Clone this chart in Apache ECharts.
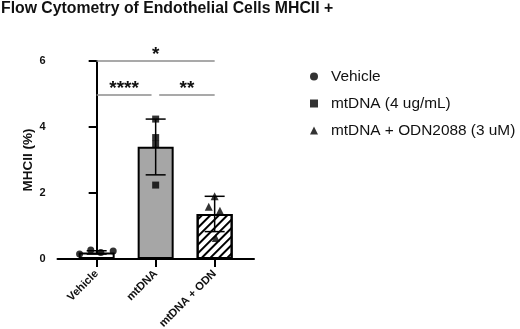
<!DOCTYPE html>
<html>
<head>
<meta charset="utf-8">
<script src="https://cdn.jsdelivr.net/npm/echarts@6/dist/echarts.min.js"></script>
<style>
  html, body { margin: 0; padding: 0; background: #fff; }
  #chart { width: 520px; height: 329px; }
</style>
</head>
<body>
<div id="chart"></div>
<script>
// groups
const categories = ['Vehicle', 'mtDNA', 'mtDNA + ODN'];
const seriesNames = ['Vehicle', 'mtDNA (4 ug/mL)', 'mtDNA + ODN2088 (3 uM)'];

// bar heights (mean) and error bar ends
const means = [0.2, 3.4, 1.36];
const errLow = [0.15, 2.55, 0.83];
const errHigh = [0.25, 4.24, 1.9];

// individual replicates per group
const vehiclePts = [0.15, 0.27, 0.2, 0.24];
const mtdnaPts = [4.24, 3.68, 3.48, 2.24];
const odnPts = [1.58, 1.46, 1.9, 0.64];
// horizontal scatter of the dots (category units)
const vehicleJitter = [-0.29, -0.1, 0.07, 0.28];
const mtdnaJitter = [0, 0, 0, 0];
const odnJitter = [-0.1, 0.09, 0, 0.02];

// significance brackets: from, to, height, stars
const sigFrom = [0, 0, 1.06];
const sigTo = [2, 0.93, 2];
const sigY = [6, 4.97, 4.97];
const sigText = ['*', '****', '**'];

const FONT = '"Liberation Sans", Arial, sans-serif';

const chart = echarts.init(document.getElementById('chart'));

function pts(vals, jit, idx) {
  return vals.map((v, i) => [idx + jit[i], v]);
}

const option = {
  animation: false,
  title: {
    text: 'Flow Cytometry of Endothelial Cells MHCII +',
    left: 0,
    top: 0,
    padding: [1, 0, 0, 1],
    textStyle: { fontFamily: FONT, fontSize: 15.8, fontWeight: 'bold', color: '#111' }
  },
  legend: {
    orient: 'vertical',
    left: 305,
    top: 64,
    itemWidth: 8,
    itemHeight: 8,
    itemGap: 12,
    data: seriesNames,
    formatter: name => '{t|' + name + '}',
    textStyle: {
      fontFamily: FONT,
      color: '#111',
      rich: { t: { fontFamily: FONT, fontSize: 15.4, color: '#111', padding: [0, 0, 0, 8], lineHeight: 16 } }
    }
  },
  grid: { left: 57.5, top: 61, right: 266, bottom: 70, outerBoundsMode: 'none', containLabel: false },
  xAxis: {
    type: 'value',
    min: -0.664,
    max: 2.667,
    splitLine: { show: false },
    axisLine: { lineStyle: { color: '#000', width: 2 } },
    axisTick: { customValues: [0, 1, 2], length: 8, lineStyle: { color: '#000', width: 2 } },
    axisLabel: {
      customValues: [0, 1, 2],
      formatter: v => categories[Math.round(v)],
      rotate: 45,
      margin: 13,
      fontFamily: FONT,
      fontSize: 11.2,
      fontWeight: 'bold',
      color: '#111'
    }
  },
  yAxis: {
    type: 'value',
    min: 0,
    max: 6,
    interval: 2,
    name: 'MHCII (%)',
    nameLocation: 'middle',
    nameGap: 22,
    nameTextStyle: { fontFamily: FONT, fontSize: 13.5, fontWeight: 'bold', color: '#111' },
    splitLine: { show: false },
    axisLine: { show: true, lineStyle: { color: '#000', width: 2 } },
    axisTick: { show: true, length: 8, lineStyle: { color: '#000', width: 2 } },
    axisLabel: { margin: 12, fontFamily: FONT, fontSize: 11, fontWeight: 'bold', color: '#111' }
  },
  series: [
    {
      type: 'bar',
      barWidth: 36,
      z: 2,
      data: means.map((m, i) => ({
        value: [i, m],
        itemStyle: i === 0 ? { color: '#fff', borderColor: '#000', borderWidth: 2 }
          : i === 1 ? { color: '#a6a6a6', borderColor: '#000', borderWidth: 2 }
          : {
              color: '#fff', borderColor: '#000', borderWidth: 2,
              decal: { symbol: 'rect', symbolSize: 1, dashArrayX: [1, 0], dashArrayY: [1.6, 3.4], rotation: -Math.PI / 4, color: '#000' }
            }
      }))
    },
    {
      type: 'custom',
      z: 3,
      data: means.map((m, i) => [i, errLow[i], errHigh[i]]),
      renderItem: function (params, api) {
        const x = api.value(0);
        const lo = api.coord([x, api.value(1)]);
        const hi = api.coord([x, api.value(2)]);
        const half = 10;
        const st = { stroke: '#000', lineWidth: 1.5 };
        return {
          type: 'group',
          children: [
            { type: 'line', shape: { x1: hi[0], y1: hi[1], x2: lo[0], y2: lo[1] }, style: st },
            { type: 'line', shape: { x1: hi[0] - half, y1: hi[1], x2: hi[0] + half, y2: hi[1] }, style: st },
            { type: 'line', shape: { x1: lo[0] - half, y1: lo[1], x2: lo[0] + half, y2: lo[1] }, style: st }
          ]
        };
      }
    },
    {
      name: seriesNames[0], type: 'scatter', symbol: 'circle', symbolSize: 7, z: 4,
      itemStyle: { color: '#000' }, data: pts(vehiclePts, vehicleJitter, 0)
    },
    {
      name: seriesNames[1], type: 'scatter', symbol: 'rect', symbolSize: 7, z: 4,
      itemStyle: { color: '#000' }, data: pts(mtdnaPts, mtdnaJitter, 1)
    },
    {
      name: seriesNames[2], type: 'scatter', symbol: 'triangle', symbolSize: 8, z: 4,
      itemStyle: { color: '#000' }, data: pts(odnPts, odnJitter, 2)
    },
    {
      type: 'custom',
      z: 5,
      silent: true,
      data: sigY.map((y, i) => [sigFrom[i], sigTo[i], y]),
      renderItem: function (params, api) {
        const a = api.coord([api.value(0), api.value(2)]);
        const b = api.coord([api.value(1), api.value(2)]);
        return {
          type: 'group',
          children: [
            { type: 'line', shape: { x1: a[0], y1: a[1], x2: b[0], y2: b[1] }, style: { stroke: '#8c8c8c', lineWidth: 1.5 } },
            {
              type: 'text',
              style: {
                text: sigText[params.dataIndex],
                x: (a[0] + b[0]) / 2,
                y: a[1] + 3,
                align: 'center',
                verticalAlign: 'bottom',
                font: 'bold 19px ' + FONT,
                fill: '#111'
              }
            }
          ]
        };
      }
    }
  ]
};

chart.setOption(option);
</script>
</body>
</html>
